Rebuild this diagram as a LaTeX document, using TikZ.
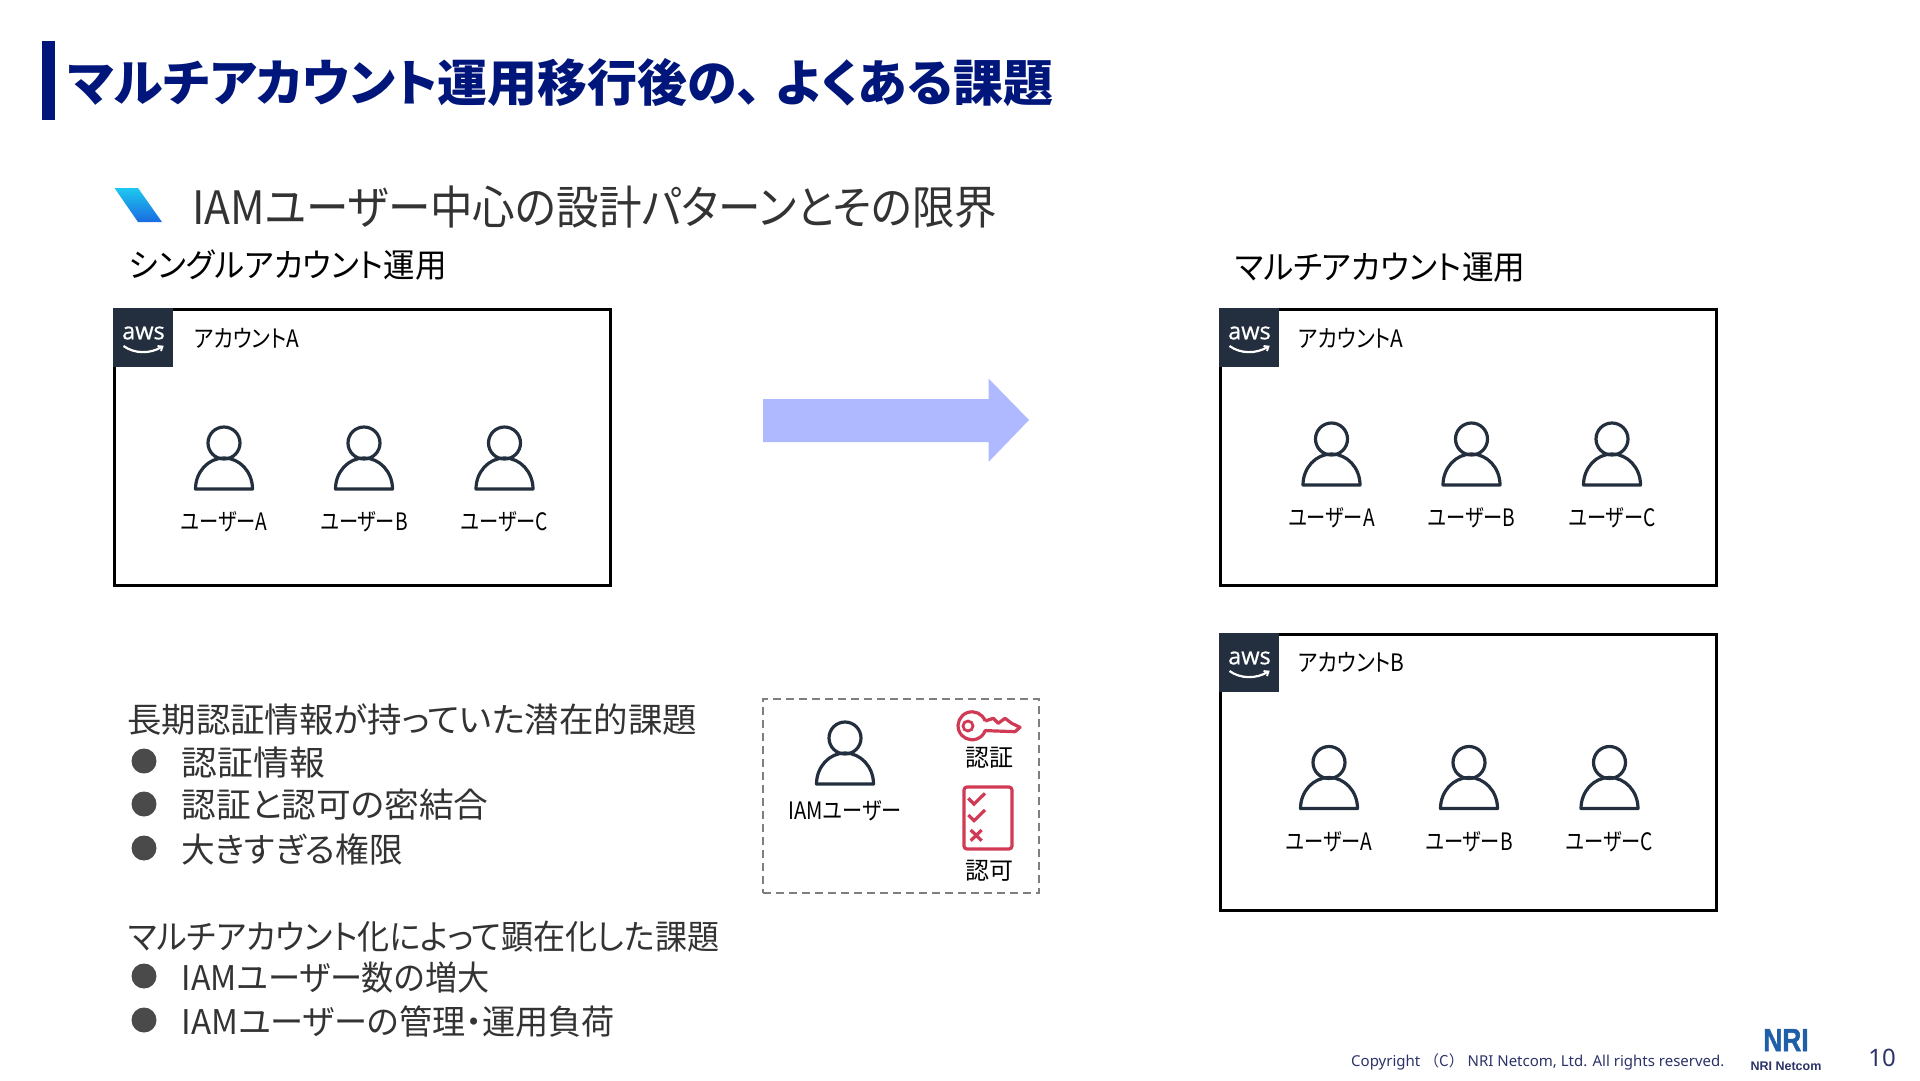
\documentclass[tikz,border=0pt]{standalone}
\usepackage{fontspec}
\setmainfont{Noto Sans CJK JP}[RawFeature=+palt]
\newfontfamily\fullfont{Noto Sans CJK JP}
\newfontfamily\latinfont{Noto Sans}
\newfontfamily\logofont{Liberation Sans}
\newfontfamily\nrifont{Liberation Sans}[BoldFeatures={FakeBold=1.5}]
\newfontfamily\awsfont{Open Sans}[FakeBold=0.7]
\definecolor{navyc}{HTML}{00167A}
\definecolor{inkc}{HTML}{232F3E}
\definecolor{redc}{HTML}{D13A54}
\definecolor{arrowc}{HTML}{AEB9FF}
\definecolor{grayc}{HTML}{7F7F7F}
\definecolor{dotc}{HTML}{4A4A4A}
\definecolor{logoc}{HTML}{1F5FA8}
\definecolor{footc}{HTML}{2B3368}
\definecolor{subc}{HTML}{333333}
\definecolor{marktop}{HTML}{1EC8F0}
\definecolor{markbot}{HTML}{1A6BE0}
\newcommand{\fs}[1]{\fontsize{#1}{#1}\selectfont}
\tikzset{
	acct/.style={draw=black, line width=3pt, minimum width=496pt, minimum height=276pt, inner sep=0pt},
	txt/.style={anchor=west, inner sep=0pt, black},
	lbl/.style={inner sep=0pt, black, font=\fs{24}},
	head/.style={txt, font=\fs{33}},
	item/.style={txt, font=\fs{34}, text=subc},
	dot/.style={circle, fill=dotc, minimum size=25pt, inner sep=0pt},
	usericon/.pic={
		\draw[inkc, line width=3.2pt] (0,-29) circle (16pt);
		\draw[inkc, line width=3.2pt, line join=round] (-28.5,17) arc (180:0:28.5pt and 31pt) -- cycle;
	},
	awsbadge/.pic={
		\fill[inkc] (0,0) rectangle (60,59);
		\node[inner sep=0pt, white, font=\awsfont\fs{23.5}] (word) at (31,25) {aws};
		\draw[white, line width=2.2pt] (11,38) .. controls (22,46) and (38,46) .. (49,39);
		\draw[white, line width=1.8pt] (45,38) -- (50,38.5) -- (48.5,43);
	}
}
\begin{document}
\begin{tikzpicture}[x=1pt, y=-1pt]
	\useasboundingbox (0,0) rectangle (1920,1080);
	\fill[navyc] (42,41) rectangle (55,120);
	\node[txt, text=navyc, font=\bfseries\fs{50}] (title) at (68,83) {マルチアカウント運用移行後の、\hspace{14pt}よくある課題};
	\shade[top color=marktop, bottom color=markbot] (114.5,188) -- (138,188) -- (162,222) -- (138,222) -- cycle;
	\node[txt, xscale=0.925, text=subc, font=\fs{46}] (sub) at (192,207) {IAMユーザー中心の設計パターンとその限界};
	\node[head, xscale=0.955] (single) at (129,265) {シングルアカウント運用};
	\node[head, xscale=0.96] (multi) at (1235,267) {マルチアカウント運用};

	\node[acct] (boxS) at (362,447.5) {};
	\node[acct] (boxA) at (1468,447.5) {};
	\node[acct] (boxB) at (1468,772.5) {};
	\pic (awsS) at (boxS.north west) {awsbadge};
	\pic (awsA) at (boxA.north west) {awsbadge};
	\pic (awsB) at (boxB.north west) {awsbadge};
	\node[txt, xscale=0.87, font=\fs{24}] (nameS) at (194,338) {アカウントA};
	\node[txt, xscale=0.87, font=\fs{24}] (nameA) at (1298.5,338) {アカウントA};
	\node[txt, xscale=0.87, font=\fs{24}] (nameB) at (1298.5,662.5) {アカウントB};

	\foreach \n/\x/\t in {1/224/A, 2/364/B, 3/504.5/C} {
		\pic at (\x,472) {usericon};
		\node[lbl, xscale=0.8] (userS\n) at (\x,521.5) {ユーザー\t};
	}
	\foreach \n/\x/\t in {1/1331.5/A, 2/1471.5/B, 3/1612/C} {
		\pic at (\x,468) {usericon};
		\node[lbl, xscale=0.8] (userA\n) at (\x,517.5) {ユーザー\t};
	}
	\foreach \n/\x/\t in {1/1329/A, 2/1469/B, 3/1609.5/C} {
		\pic at (\x,791.5) {usericon};
		\node[lbl, xscale=0.8] (userB\n) at (\x,842) {ユーザー\t};
	}

	\fill[arrowc] (763,399) -- (988.5,399) -- (988.5,378.5) -- (1029,420) -- (988.5,462) -- (988.5,442) -- (763,442) -- cycle;

	\node[draw=grayc, line width=2.4pt, dash pattern=on 8pt off 5pt, minimum width=276pt, minimum height=194pt, inner sep=0pt] (legend) at (901,796) {};
	\pic at (845,767) {usericon};
	\node[lbl, xscale=0.84] (iam) at (845,810.5) {IAMユーザー};
	\draw[redc, line width=3.2pt, line join=round] (985.2,721) arc (20:340:14pt) -- (1015,731.7) -- (1020,727.3) -- (1011.7,723.3) -- (1005,718.3) -- (998.3,723.3) -- (993.3,718.3) -- (985.2,721);
	\draw[redc, line width=2.8pt] (968,726) circle (5pt);
	\node[lbl] (authn) at (989,757.5) {認証};
	\draw[redc, line width=3.2pt, rounded corners=3pt] (964,787) rectangle (1012,849);
	\draw[redc, line width=3.2pt] (968.3,798.3) -- (974,804) -- (985,793.3);
	\draw[redc, line width=3.2pt] (968.3,815) -- (974,820.7) -- (985,810);
	\draw[redc, line width=3.2pt] (970.7,830) -- (981.7,840.7) (981.7,830) -- (970.7,840.7);
	\node[lbl] (authz) at (989,871) {認可};

	\node[item, xscale=1.013] (issueA) at (127,719.5) {長期認証情報が持っていた潜在的課題};
	\node[item, xscale=0.943] (issueB) at (128,936.5) {マルチアカウント化によって顕在化した課題};
	\foreach \n/\y/\d/\s/\t in {1/762.5/761/1.055/認証情報, 2/805/804/1.02/認証と認可の密結合, 3/849/848/0.99/大きすぎる権限, 4/978/976/0.947/IAMユーザー数の増大, 5/1022/1020/0.975/IAMユーザーの管理・運用負荷} {
		\node[dot] (dot\n) at (144,\d) {};
		\node[item, xscale=\s] (row\n) at (181.5,\y) {\t};
	}

	\node[txt, text=footc, font=\latinfont\fs{15}] (copy) at (1351,1062) {Copyright {\fullfont（C）} NRI Netcom, Ltd. All rights reserved.};
	\node[inner sep=0pt, xscale=0.82, text=logoc, font=\nrifont\bfseries\fs{32}] (logo) at (1786,1040) {NRI};
	\node[inner sep=0pt, text=footc, font=\logofont\bfseries\fs{12.5}] (logoname) at (1786,1066) {NRI Netcom};
	\node[inner sep=0pt, text=footc, font=\latinfont\fs{24}] (page) at (1882,1058) {10};
\end{tikzpicture}
\end{document}
